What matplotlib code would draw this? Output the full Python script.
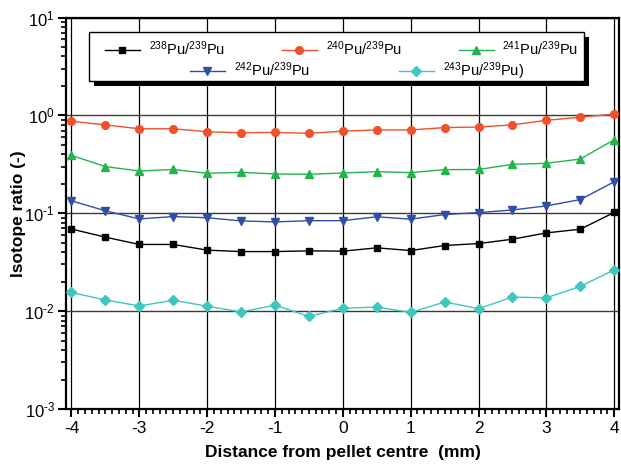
import numpy as np
import matplotlib
matplotlib.use("Agg")
from matplotlib import pyplot as plt
from matplotlib import patches as mpatches
from matplotlib.ticker import MultipleLocator, LogLocator, NullFormatter, FuncFormatter

plt.rcParams['font.family'] = ['Liberation Sans', 'DejaVu Sans']
plt.rcParams['mathtext.fontset'] = 'custom'
plt.rcParams['mathtext.rm'] = 'Liberation Sans'
plt.rcParams['mathtext.it'] = 'Liberation Sans:italic'
plt.rcParams['mathtext.bf'] = 'Liberation Sans:bold'
plt.rcParams['mathtext.default'] = 'regular'

## radial positions across the pellet (mm)
distance = [-4, -3.5, -3, -2.5, -2, -1.5, -1, -0.5, 0,
            0.5, 1, 1.5, 2, 2.5, 3, 3.5, 4]

pu238 = [0.069, 0.057, 0.048, 0.048, 0.042, 0.0406, 0.0406, 0.0413, 0.041,
         0.0443, 0.0416, 0.0468, 0.049, 0.0543, 0.063, 0.0687, 0.102]
pu240 = [0.87, 0.80, 0.73, 0.73, 0.68, 0.665, 0.67, 0.655, 0.69,
         0.71, 0.71, 0.75, 0.76, 0.80, 0.89, 0.96, 1.03]
pu241 = [0.39, 0.30, 0.27, 0.28, 0.256, 0.262, 0.252, 0.25, 0.258,
         0.266, 0.26, 0.279, 0.28, 0.316, 0.324, 0.358, 0.565]
pu242 = [0.134, 0.106, 0.0875, 0.0925, 0.090, 0.0835, 0.0816, 0.084, 0.084,
         0.092, 0.087, 0.097, 0.1016, 0.108, 0.119, 0.138, 0.21]
pu243 = [0.0155, 0.0130, 0.0113, 0.0129, 0.01125, 0.0098, 0.0115, 0.00883, 0.0107,
         0.011, 0.0097, 0.0124, 0.0106, 0.0139, 0.0137, 0.0179, 0.0264]

labels = [r'$^{238}$Pu/$^{239}$Pu', r'$^{240}$Pu/$^{239}$Pu', r'$^{241}$Pu/$^{239}$Pu',
          r'$^{242}$Pu/$^{239}$Pu', r'$^{243}$Pu/$^{239}$Pu)']

fig = plt.figure(figsize=(6.21, 4.67), dpi=100)
ax = fig.add_axes([0.1063, 0.1242, 0.8905, 0.8383])

series = [
    (pu238, 'black', 's', 5.0),
    (pu240, '#f0502a', 'o', 5.5),
    (pu241, '#25b34e', '^', 6.0),
    (pu242, '#2f4ea6', 'v', 6.0),
    (pu243, '#3fc6bd', 'D', 4.8),
]
lines = []
for (vals, col, mk, ms), lab in zip(series, labels):
    ln, = ax.plot(distance, vals, color=col, marker=mk, markersize=ms,
                  lw=1.0, label=lab, zorder=3)
    lines.append(ln)


def decade_label(v, pos):
    # hyphen-style exponent sign
    e = int(round(np.log10(v)))
    s = str(e).replace('-', '\u2010')
    return r'$10^{%s}$' % s


ax.set_yscale('log')
ax.set_xlim(-4.08, 4.07)
ax.set_ylim(1e-3, 1e1)
ax.xaxis.set_major_locator(MultipleLocator(1))
ax.xaxis.set_minor_locator(MultipleLocator(0.1))
ax.yaxis.set_major_locator(LogLocator(base=10, numticks=10))
ax.yaxis.set_minor_locator(LogLocator(base=10, subs=np.arange(2, 10), numticks=10))
ax.yaxis.set_minor_formatter(NullFormatter())
ax.yaxis.set_major_formatter(FuncFormatter(decade_label))
ax.xaxis.set_major_formatter(FuncFormatter(lambda v, p: '%d' % v))

ax.tick_params(which='major', direction='out', length=6, width=1.5, labelsize=12.5, pad=3)
ax.tick_params(axis='y', which='major', labelsize=12, pad=2)
ax.tick_params(which='minor', direction='out', length=3.5, width=1.2)
ax.tick_params(top=False, right=False, which='both')
for sp in ax.spines.values():
    sp.set_linewidth(1.6)

ax.grid(which='major', axis='x', color='black', lw=0.9)
ax.grid(which='major', axis='y', color='#3a3a3a', lw=1.0)
ax.set_axisbelow(True)

ax.set_xlabel('Distance from pellet centre  (mm)', fontsize=12.5, fontweight='bold', labelpad=6)
ax.set_ylabel('Isotope ratio (-)', fontsize=12.5, fontweight='bold')
ax.yaxis.set_label_coords(-0.072, 0.5)

# legend box with offset shadow
shadow = mpatches.Rectangle((0.0416 + 0.009, 0.838 - 0.013), 0.8951, 0.125,
                            transform=ax.transAxes, facecolor='black',
                            edgecolor='none', zorder=4)
box = mpatches.Rectangle((0.0416, 0.838), 0.8951, 0.125, transform=ax.transAxes,
                         facecolor='white', edgecolor='black', lw=1.0, zorder=5)
ax.add_patch(shadow)
ax.add_patch(box)

leg_kw = dict(frameon=False, fontsize=10.5, handlelength=2.4, handletextpad=0.6,
              borderpad=0, borderaxespad=0, loc='center left')
leg1 = ax.legend(lines[:3], labels[:3], ncol=3, columnspacing=3.9,
                 bbox_to_anchor=(0.0705, 0.920), **leg_kw)
leg1.set_zorder(6)
ax.add_artist(leg1)
leg2 = ax.legend(lines[3:], labels[3:], ncol=2, columnspacing=6.1,
                 bbox_to_anchor=(0.224, 0.863), **leg_kw)
leg2.set_zorder(6)

fig.savefig('out.png', dpi=100)
